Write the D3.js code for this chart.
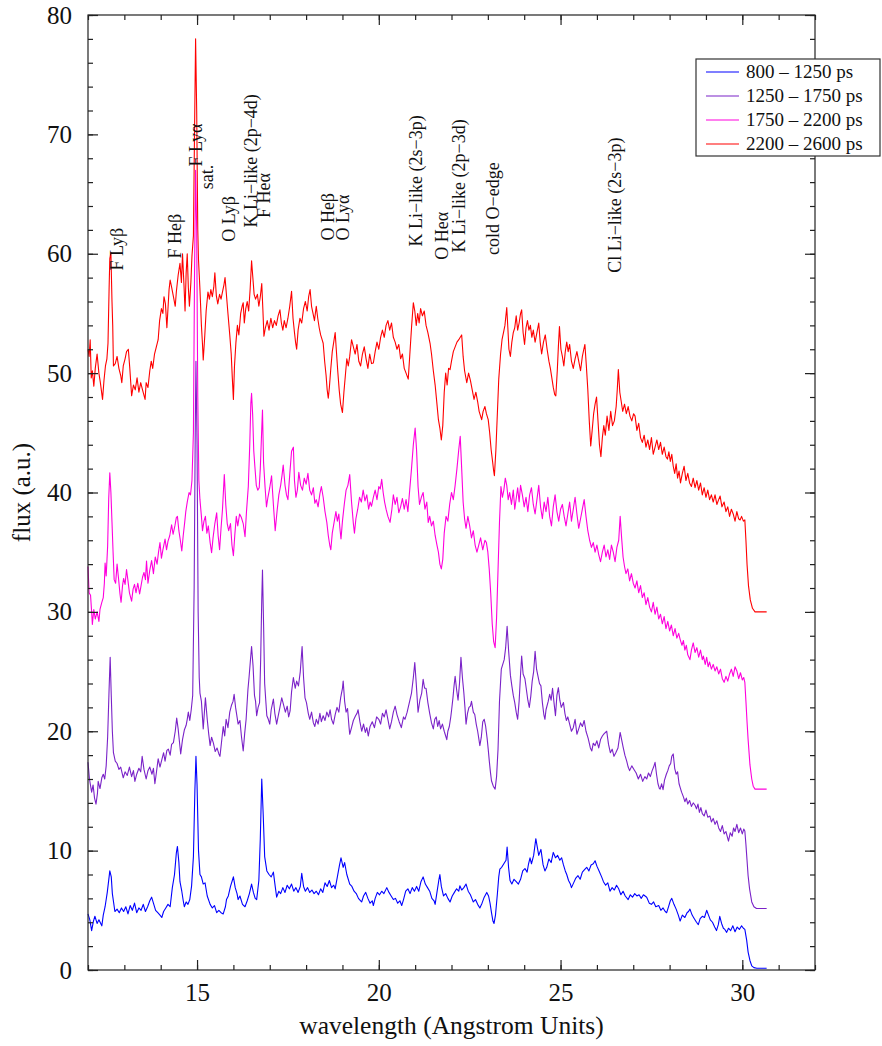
<!DOCTYPE html>
<html lang="en">
<head>
<meta charset="UTF-8"/>
<title>Time-resolved spectra</title>
<script src="https://d3js.org/d3.v7.min.js"></script>
<style>
  body { margin: 0; background: #fff; }
  svg text { font-family: "Liberation Serif", "DejaVu Serif", serif; fill: #111; }
</style>
</head>
<body>
<div id="chart"></div>
<script>
// ---- data: [wavelength (A), flux (a.u.)] ----
const s800 = [[12.0,4.7],[12.05,4.2],[12.1,3.3],[12.15,4.1],[12.19,4.5],[12.25,3.9],[12.3,4.2],[12.38,3.7],[12.42,4.6],[12.47,5.3],[12.53,6.5],[12.6,8.3],[12.64,7.8],[12.67,6.4],[12.74,4.9],[12.8,5.1],[12.86,4.8],[12.92,5.2],[12.98,4.9],[13.04,5.3],[13.1,4.7],[13.16,5.4],[13.22,5.0],[13.28,5.6],[13.34,4.8],[13.4,5.2],[13.46,5.0],[13.52,5.5],[13.58,4.9],[13.64,5.3],[13.7,5.8],[13.75,6.1],[13.8,5.6],[13.86,5.0],[13.92,4.8],[13.98,4.6],[14.03,4.4],[14.08,4.9],[14.14,5.2],[14.2,5.5],[14.26,5.3],[14.32,6.9],[14.38,8.0],[14.43,9.8],[14.46,10.35],[14.5,9.0],[14.53,7.4],[14.58,6.6],[14.62,5.8],[14.65,5.3],[14.7,5.7],[14.75,5.5],[14.8,5.9],[14.85,7.05],[14.9,9.5],[14.94,15.0],[14.97,17.9],[15.0,15.5],[15.04,10.0],[15.08,8.0],[15.12,7.8],[15.17,7.2],[15.22,7.3],[15.28,6.2],[15.36,5.5],[15.42,5.2],[15.48,5.4],[15.54,4.8],[15.6,5.0],[15.66,4.8],[15.72,4.7],[15.78,5.3],[15.81,5.9],[15.86,6.2],[15.92,7.0],[15.97,7.5],[16.0,7.8],[16.05,6.9],[16.1,6.4],[16.13,5.9],[16.18,6.2],[16.25,5.5],[16.32,5.3],[16.38,5.8],[16.44,6.4],[16.5,7.2],[16.55,6.5],[16.6,6.0],[16.64,5.9],[16.7,7.5],[16.74,11.0],[16.78,16.0],[16.82,13.0],[16.86,9.5],[16.92,8.3],[16.98,8.0],[17.04,7.8],[17.1,8.2],[17.15,7.0],[17.19,6.1],[17.25,6.6],[17.3,6.4],[17.36,6.9],[17.42,6.5],[17.48,7.1],[17.54,6.8],[17.6,7.2],[17.66,6.6],[17.72,6.9],[17.78,6.5],[17.84,7.0],[17.88,8.1],[17.93,7.0],[17.98,6.6],[18.04,6.9],[18.1,6.5],[18.16,6.7],[18.22,6.4],[18.28,6.6],[18.34,6.3],[18.4,6.8],[18.46,6.5],[18.52,7.3],[18.58,7.0],[18.64,7.5],[18.7,6.9],[18.76,7.1],[18.8,6.8],[18.86,7.8],[18.92,8.8],[18.96,9.4],[19.02,8.6],[19.06,9.0],[19.12,8.0],[19.2,7.2],[19.26,7.0],[19.32,6.6],[19.38,6.4],[19.44,6.0],[19.5,5.8],[19.53,5.7],[19.58,6.2],[19.64,6.5],[19.7,6.0],[19.76,5.6],[19.82,5.8],[19.85,5.4],[19.9,6.0],[19.96,6.5],[20.02,6.3],[20.08,6.6],[20.14,6.4],[20.22,6.9],[20.28,6.5],[20.34,6.2],[20.4,5.9],[20.46,6.0],[20.52,5.6],[20.58,5.8],[20.63,5.4],[20.68,5.9],[20.74,6.6],[20.8,6.8],[20.86,6.4],[20.92,6.9],[20.98,6.6],[21.04,7.0],[21.1,6.6],[21.16,7.4],[21.22,7.8],[21.28,7.2],[21.34,6.9],[21.4,6.6],[21.46,6.0],[21.52,5.8],[21.55,5.5],[21.6,6.5],[21.65,7.5],[21.68,8.0],[21.72,7.0],[21.78,6.2],[21.84,6.4],[21.9,6.0],[21.96,5.7],[22.02,6.2],[22.08,6.5],[22.14,6.8],[22.2,6.6],[22.23,7.05],[22.28,6.7],[22.34,6.9],[22.4,7.2],[22.46,6.6],[22.52,6.3],[22.56,6.0],[22.6,5.7],[22.66,5.9],[22.72,5.5],[22.78,5.2],[22.84,5.6],[22.9,6.1],[22.97,6.5],[23.02,6.2],[23.06,5.6],[23.1,4.8],[23.14,4.1],[23.17,3.9],[23.21,4.6],[23.26,6.3],[23.3,7.8],[23.33,8.45],[23.38,8.6],[23.44,8.9],[23.5,9.2],[23.53,10.3],[23.57,8.6],[23.61,7.5],[23.66,7.2],[23.72,7.6],[23.78,7.4],[23.84,7.2],[23.9,7.6],[23.96,8.3],[24.02,8.5],[24.08,8.2],[24.12,8.9],[24.16,9.4],[24.2,8.9],[24.26,9.6],[24.32,11.0],[24.36,10.3],[24.4,9.6],[24.46,10.1],[24.52,8.8],[24.57,8.3],[24.62,8.6],[24.68,9.3],[24.74,9.0],[24.8,9.85],[24.86,9.4],[24.92,9.6],[24.98,9.2],[25.03,9.4],[25.08,8.8],[25.13,8.3],[25.17,8.0],[25.22,7.5],[25.27,7.2],[25.3,6.9],[25.36,7.3],[25.42,7.7],[25.48,7.9],[25.54,7.6],[25.6,8.2],[25.66,8.4],[25.72,8.6],[25.78,8.3],[25.84,8.8],[25.9,8.9],[25.95,9.15],[26.0,8.7],[26.06,8.3],[26.13,7.8],[26.18,7.4],[26.24,7.1],[26.3,7.3],[26.36,6.6],[26.42,6.9],[26.48,6.7],[26.54,7.1],[26.6,6.8],[26.66,6.3],[26.72,6.6],[26.78,6.2],[26.86,5.9],[26.92,6.3],[26.98,6.1],[27.04,6.4],[27.1,6.2],[27.16,6.3],[27.22,6.0],[27.28,6.3],[27.37,6.1],[27.44,5.6],[27.5,5.5],[27.56,5.7],[27.62,5.3],[27.7,5.4],[27.76,5.0],[27.82,5.2],[27.88,4.9],[27.92,4.8],[27.98,5.4],[28.02,5.8],[28.06,6.0],[28.12,5.5],[28.18,5.1],[28.24,4.6],[28.29,4.1],[28.35,4.6],[28.42,4.4],[28.48,4.8],[28.52,4.9],[28.56,5.1],[28.62,4.6],[28.68,4.3],[28.74,4.0],[28.79,3.8],[28.84,4.3],[28.9,4.5],[28.96,4.4],[29.02,5.0],[29.07,4.6],[29.12,4.2],[29.18,4.0],[29.24,3.6],[29.29,3.3],[29.34,3.8],[29.38,4.5],[29.43,3.9],[29.48,3.5],[29.52,3.4],[29.57,3.15],[29.62,3.5],[29.68,3.3],[29.74,3.7],[29.8,3.2],[29.86,3.6],[29.92,3.4],[29.98,3.7],[30.03,3.5],[30.07,3.4],[30.12,2.5],[30.16,1.5],[30.21,0.8],[30.26,0.35],[30.32,0.2],[30.4,0.15],[30.5,0.15],[30.6,0.15],[30.67,0.15]];

const s1250 = [[12.0,17.4],[12.04,16.0],[12.1,14.9],[12.14,15.5],[12.18,14.4],[12.22,13.9],[12.26,14.8],[12.28,15.8],[12.33,15.2],[12.38,16.1],[12.42,16.4],[12.46,16.0],[12.5,17.1],[12.54,19.5],[12.58,23.5],[12.61,26.2],[12.64,23.0],[12.67,20.0],[12.7,18.2],[12.75,17.5],[12.8,17.3],[12.85,16.8],[12.9,17.0],[12.97,16.1],[13.02,16.6],[13.08,16.3],[13.14,17.0],[13.2,16.2],[13.25,16.7],[13.29,15.8],[13.34,16.4],[13.4,16.9],[13.45,16.6],[13.49,17.9],[13.54,16.8],[13.6,16.0],[13.65,16.7],[13.7,17.0],[13.76,16.4],[13.8,16.9],[13.84,15.6],[13.88,16.5],[13.93,17.7],[13.98,17.0],[14.03,17.6],[14.08,18.2],[14.12,17.5],[14.17,18.4],[14.21,18.5],[14.26,18.0],[14.3,18.9],[14.35,19.05],[14.4,20.0],[14.44,21.1],[14.48,20.2],[14.52,19.0],[14.55,18.1],[14.6,19.3],[14.65,20.1],[14.7,20.5],[14.73,21.0],[14.76,21.6],[14.8,20.9],[14.84,21.8],[14.88,23.0],[14.92,32.0],[14.95,45.0],[14.97,51.0],[15.0,44.0],[15.03,30.0],[15.06,24.5],[15.08,23.2],[15.12,22.5],[15.17,20.2],[15.2,21.5],[15.23,22.8],[15.28,21.0],[15.32,19.8],[15.36,18.8],[15.4,19.5],[15.45,19.0],[15.5,18.3],[15.55,18.6],[15.6,18.1],[15.63,17.9],[15.67,19.0],[15.72,20.4],[15.76,19.6],[15.8,21.0],[15.85,20.3],[15.9,21.6],[15.95,22.2],[15.99,22.5],[16.02,23.1],[16.06,22.0],[16.1,21.2],[16.13,20.6],[16.18,20.9],[16.22,19.6],[16.27,18.35],[16.31,19.8],[16.35,21.0],[16.4,23.5],[16.43,24.5],[16.47,26.0],[16.5,27.1],[16.54,25.5],[16.58,23.0],[16.61,22.5],[16.64,21.3],[16.68,22.0],[16.72,22.4],[16.75,26.0],[16.78,31.0],[16.8,33.5],[16.83,29.0],[16.86,24.0],[16.89,22.6],[16.92,21.3],[16.96,21.0],[17.0,20.6],[17.04,21.8],[17.1,22.7],[17.14,21.5],[17.19,20.6],[17.24,21.4],[17.28,22.0],[17.33,22.8],[17.38,22.2],[17.43,21.6],[17.48,22.1],[17.52,21.2],[17.56,21.7],[17.6,23.3],[17.65,24.5],[17.7,23.6],[17.74,24.2],[17.79,23.8],[17.84,25.0],[17.89,27.1],[17.93,24.5],[17.97,22.8],[18.01,22.4],[18.06,21.5],[18.1,21.0],[18.15,21.6],[18.2,20.7],[18.24,20.4],[18.28,21.0],[18.33,20.6],[18.38,21.5],[18.42,20.8],[18.47,21.3],[18.52,20.9],[18.57,21.6],[18.62,21.2],[18.66,21.8],[18.7,21.0],[18.75,20.6],[18.8,21.4],[18.85,22.0],[18.9,21.6],[18.95,22.8],[19.0,23.6],[19.02,24.2],[19.06,22.5],[19.1,21.6],[19.14,21.9],[19.18,20.4],[19.2,19.75],[19.25,20.3],[19.3,20.9],[19.36,21.3],[19.4,21.5],[19.43,21.8],[19.48,20.8],[19.53,20.0],[19.58,20.6],[19.63,19.9],[19.67,20.3],[19.71,19.6],[19.76,20.4],[19.82,20.8],[19.88,20.3],[19.94,21.2],[20.0,21.0],[20.05,20.6],[20.1,21.5],[20.15,21.2],[20.2,21.8],[20.25,21.0],[20.3,20.2],[20.35,20.8],[20.4,21.6],[20.45,22.1],[20.5,21.4],[20.56,20.8],[20.62,20.3],[20.68,21.2],[20.72,21.0],[20.78,21.6],[20.84,22.4],[20.9,23.2],[20.95,24.5],[20.99,25.75],[21.03,24.0],[21.08,21.6],[21.13,22.6],[21.18,23.2],[21.22,24.35],[21.26,23.6],[21.3,23.6],[21.35,22.4],[21.4,21.5],[21.45,20.7],[21.5,20.2],[21.54,21.0],[21.58,21.2],[21.62,20.4],[21.66,20.9],[21.7,20.2],[21.75,20.6],[21.8,20.0],[21.84,19.6],[21.87,19.3],[21.9,20.0],[21.94,20.4],[21.98,21.2],[22.0,21.7],[22.04,22.8],[22.07,23.8],[22.1,24.6],[22.14,23.5],[22.18,22.6],[22.22,24.0],[22.26,26.2],[22.3,24.5],[22.34,23.2],[22.37,22.0],[22.4,20.6],[22.44,21.5],[22.48,22.0],[22.52,22.1],[22.55,22.5],[22.6,21.6],[22.64,21.4],[22.68,20.6],[22.72,20.0],[22.75,19.4],[22.78,18.8],[22.82,19.5],[22.86,20.8],[22.9,21.0],[22.94,20.4],[22.98,19.4],[23.01,18.5],[23.04,17.5],[23.07,16.6],[23.1,15.85],[23.15,15.4],[23.2,15.15],[23.24,16.2],[23.28,18.5],[23.32,22.5],[23.37,25.2],[23.41,25.6],[23.45,26.0],[23.49,27.0],[23.53,28.8],[23.57,26.8],[23.62,24.7],[23.66,23.8],[23.7,23.0],[23.74,22.4],[23.78,21.6],[23.82,21.0],[23.86,22.5],[23.9,24.8],[23.93,26.3],[23.97,24.8],[24.02,24.4],[24.06,23.5],[24.1,22.6],[24.14,22.0],[24.18,22.9],[24.22,24.2],[24.26,25.0],[24.3,26.7],[24.34,25.2],[24.38,24.6],[24.42,24.0],[24.46,23.8],[24.5,22.4],[24.54,21.4],[24.57,21.0],[24.6,21.8],[24.66,22.5],[24.7,23.1],[24.74,22.6],[24.78,23.6],[24.82,22.4],[24.86,21.3],[24.9,23.0],[24.94,23.65],[24.98,22.6],[25.02,22.0],[25.08,22.4],[25.12,21.5],[25.16,20.9],[25.2,21.2],[25.25,20.6],[25.3,20.0],[25.35,20.3],[25.4,21.0],[25.45,19.75],[25.5,20.2],[25.55,20.7],[25.6,20.4],[25.65,20.9],[25.7,20.0],[25.76,19.4],[25.82,18.6],[25.86,18.35],[25.9,19.0],[25.95,18.8],[26.0,19.2],[26.05,18.6],[26.1,19.3],[26.15,19.6],[26.2,19.8],[26.27,20.0],[26.32,18.9],[26.37,18.2],[26.42,18.5],[26.47,17.9],[26.52,18.2],[26.58,18.6],[26.64,19.9],[26.68,19.3],[26.72,18.7],[26.77,18.0],[26.82,17.5],[26.86,17.0],[26.9,16.7],[26.96,17.1],[27.02,16.8],[27.08,16.5],[27.14,16.0],[27.2,16.4],[27.26,15.8],[27.32,16.2],[27.37,16.0],[27.42,16.5],[27.47,16.2],[27.52,16.7],[27.56,17.0],[27.6,17.4],[27.64,16.4],[27.68,15.6],[27.72,15.2],[27.74,15.15],[27.78,15.6],[27.82,15.1],[27.86,15.9],[27.91,16.4],[27.95,16.7],[27.99,17.1],[28.03,17.3],[28.06,17.9],[28.1,18.1],[28.14,16.9],[28.18,16.4],[28.22,16.6],[28.26,15.6],[28.3,15.2],[28.33,14.9],[28.38,14.5],[28.42,14.1],[28.46,14.4],[28.5,13.9],[28.55,14.2],[28.6,13.7],[28.65,14.0],[28.7,13.8],[28.74,13.5],[28.78,13.9],[28.82,13.2],[28.86,13.6],[28.9,13.1],[28.95,12.9],[29.0,13.4],[29.05,12.8],[29.11,12.9],[29.15,12.4],[29.2,12.7],[29.25,12.2],[29.3,12.5],[29.35,11.9],[29.4,11.6],[29.45,12.1],[29.5,11.4],[29.55,11.6],[29.62,10.8],[29.67,11.5],[29.72,11.2],[29.76,11.9],[29.8,11.6],[29.85,12.2],[29.9,11.5],[29.95,11.9],[30.0,11.4],[30.04,11.8],[30.07,11.65],[30.1,10.5],[30.13,9.2],[30.16,7.9],[30.2,6.8],[30.26,5.7],[30.32,5.3],[30.39,5.15],[30.5,5.15],[30.6,5.15],[30.67,5.15]];

const s1750 = [[12.0,33.8],[12.03,31.6],[12.07,31.4],[12.1,30.0],[12.12,28.95],[12.16,30.2],[12.2,29.4],[12.25,30.0],[12.3,29.2],[12.33,30.2],[12.38,30.8],[12.42,31.2],[12.45,32.4],[12.47,34.1],[12.5,33.0],[12.54,35.5],[12.57,39.5],[12.6,41.65],[12.63,40.0],[12.66,37.5],[12.69,35.0],[12.72,32.7],[12.76,32.4],[12.8,34.0],[12.84,32.8],[12.88,31.5],[12.91,30.8],[12.95,32.2],[12.98,32.8],[13.02,32.3],[13.06,33.55],[13.1,32.6],[13.14,31.6],[13.2,30.9],[13.24,31.9],[13.28,32.3],[13.32,31.6],[13.37,32.4],[13.42,31.5],[13.46,32.2],[13.5,32.9],[13.54,33.3],[13.58,32.7],[13.61,34.25],[13.65,32.4],[13.7,33.5],[13.75,34.3],[13.8,33.2],[13.85,34.6],[13.9,34.0],[13.94,35.0],[13.98,35.8],[14.02,34.5],[14.06,35.2],[14.12,36.1],[14.16,35.2],[14.2,35.9],[14.25,36.4],[14.3,37.3],[14.34,36.5],[14.39,37.2],[14.43,37.9],[14.46,38.0],[14.5,36.8],[14.54,36.0],[14.58,35.1],[14.62,36.4],[14.66,37.5],[14.69,38.4],[14.73,39.2],[14.78,40.0],[14.82,39.8],[14.86,41.0],[14.9,45.0],[14.93,58.0],[14.96,67.0],[14.99,62.0],[15.02,48.0],[15.05,41.0],[15.08,39.4],[15.12,38.0],[15.15,36.8],[15.19,37.6],[15.23,38.0],[15.27,36.6],[15.31,37.2],[15.36,35.8],[15.4,34.95],[15.44,36.2],[15.49,37.4],[15.54,38.3],[15.58,36.4],[15.62,35.2],[15.66,37.0],[15.7,38.6],[15.75,41.5],[15.79,39.0],[15.83,37.4],[15.87,36.8],[15.92,37.4],[15.96,35.6],[16.0,34.7],[16.04,36.5],[16.08,38.0],[16.12,37.2],[16.17,38.2],[16.22,37.9],[16.27,37.4],[16.32,36.3],[16.36,38.4],[16.41,40.5],[16.45,44.0],[16.48,47.5],[16.5,48.3],[16.53,46.5],[16.56,43.5],[16.59,42.2],[16.63,40.6],[16.67,40.2],[16.71,40.4],[16.74,42.0],[16.77,44.5],[16.8,46.9],[16.83,42.5],[16.87,40.5],[16.91,38.8],[16.95,39.6],[17.0,40.4],[17.05,41.4],[17.1,39.0],[17.15,36.8],[17.2,38.4],[17.25,39.8],[17.3,40.6],[17.34,41.5],[17.37,42.3],[17.42,40.6],[17.46,39.8],[17.5,39.4],[17.55,41.5],[17.6,43.45],[17.65,43.8],[17.68,41.0],[17.72,39.6],[17.76,40.2],[17.8,41.7],[17.85,40.6],[17.9,40.2],[17.95,41.2],[18.0,40.7],[18.05,41.6],[18.1,40.2],[18.15,39.8],[18.2,40.4],[18.24,39.1],[18.28,39.4],[18.33,38.8],[18.38,39.9],[18.42,40.5],[18.47,39.6],[18.52,38.4],[18.57,37.5],[18.61,36.4],[18.65,35.6],[18.68,35.2],[18.72,36.6],[18.77,37.5],[18.82,38.4],[18.86,37.6],[18.9,38.2],[18.93,37.0],[18.96,36.1],[19.0,37.6],[19.05,39.0],[19.1,40.2],[19.15,40.6],[19.2,41.5],[19.25,39.2],[19.3,37.4],[19.33,36.6],[19.37,37.8],[19.42,38.6],[19.47,39.6],[19.52,39.2],[19.57,40.2],[19.62,39.3],[19.67,39.8],[19.72,38.6],[19.76,39.2],[19.8,38.85],[19.85,39.6],[19.9,40.2],[19.95,39.4],[20.0,40.5],[20.04,40.3],[20.08,41.1],[20.12,40.0],[20.16,39.2],[20.2,38.6],[20.25,38.0],[20.31,37.5],[20.36,38.6],[20.4,39.8],[20.45,39.0],[20.5,39.6],[20.55,38.3],[20.6,38.8],[20.65,39.5],[20.7,38.6],[20.75,39.4],[20.8,38.4],[20.85,40.2],[20.9,42.0],[20.95,44.0],[21.0,45.4],[21.04,43.5],[21.08,40.5],[21.12,39.0],[21.17,39.6],[21.22,40.0],[21.27,38.6],[21.32,39.2],[21.36,37.5],[21.4,38.0],[21.45,37.2],[21.5,37.6],[21.55,36.4],[21.6,35.6],[21.64,35.0],[21.68,34.0],[21.72,33.6],[21.76,34.4],[21.8,36.6],[21.85,38.0],[21.9,37.6],[21.95,39.0],[22.0,40.0],[22.05,39.4],[22.1,40.6],[22.15,42.0],[22.2,43.6],[22.24,44.7],[22.28,42.0],[22.32,39.2],[22.36,37.8],[22.4,37.0],[22.45,38.0],[22.5,37.2],[22.55,36.2],[22.6,36.8],[22.65,35.6],[22.7,35.0],[22.75,35.6],[22.8,36.2],[22.86,35.2],[22.92,36.0],[22.96,35.8],[23.0,35.0],[23.04,33.5],[23.08,31.5],[23.12,29.0],[23.16,27.5],[23.2,27.0],[23.24,29.5],[23.28,33.5],[23.32,37.5],[23.36,40.5],[23.4,39.6],[23.44,40.2],[23.48,41.2],[23.52,40.6],[23.56,39.4],[23.6,40.0],[23.65,39.0],[23.7,40.2],[23.74,38.6],[23.78,39.5],[23.82,40.4],[23.86,39.2],[23.9,40.6],[23.95,39.8],[24.0,38.8],[24.05,39.6],[24.1,38.4],[24.15,39.8],[24.2,40.4],[24.25,39.0],[24.3,38.2],[24.35,39.4],[24.4,40.6],[24.45,38.8],[24.5,37.8],[24.55,39.2],[24.6,38.4],[24.65,39.6],[24.7,38.0],[24.75,37.2],[24.8,38.8],[24.85,39.8],[24.9,38.4],[24.95,37.6],[25.0,38.6],[25.05,39.0],[25.1,38.0],[25.15,37.2],[25.2,38.2],[25.25,39.2],[25.3,37.6],[25.35,38.6],[25.4,39.6],[25.45,38.2],[25.5,37.0],[25.55,37.8],[25.6,38.6],[25.65,39.4],[25.7,38.0],[25.75,36.8],[25.8,36.0],[25.85,35.4],[25.9,35.8],[25.95,35.0],[26.0,35.6],[26.05,34.8],[26.1,34.2],[26.15,35.0],[26.2,35.6],[26.25,34.6],[26.3,35.2],[26.35,34.4],[26.4,35.6],[26.45,35.0],[26.5,34.2],[26.55,35.4],[26.6,36.0],[26.64,38.0],[26.68,36.2],[26.72,34.6],[26.76,33.8],[26.8,33.2],[26.85,33.6],[26.9,32.6],[26.95,33.2],[27.0,32.4],[27.05,32.0],[27.1,32.6],[27.15,31.6],[27.2,32.2],[27.25,31.2],[27.3,31.6],[27.35,30.6],[27.4,31.2],[27.45,30.4],[27.5,30.0],[27.55,30.8],[27.6,29.8],[27.65,30.4],[27.7,29.4],[27.75,29.8],[27.8,29.0],[27.85,29.6],[27.9,28.6],[27.95,29.2],[28.0,28.4],[28.05,28.9],[28.1,28.0],[28.15,28.6],[28.2,27.8],[28.25,28.2],[28.29,27.7],[28.34,27.2],[28.38,27.6],[28.42,26.8],[28.46,27.2],[28.5,26.4],[28.56,26.0],[28.6,26.8],[28.65,27.4],[28.7,26.6],[28.75,27.0],[28.8,26.2],[28.85,26.8],[28.9,26.0],[28.93,26.3],[28.98,25.6],[29.02,26.2],[29.06,25.4],[29.1,25.8],[29.15,25.2],[29.2,25.6],[29.25,25.05],[29.3,25.4],[29.35,24.8],[29.4,25.2],[29.45,24.4],[29.5,24.1],[29.55,24.6],[29.6,24.2],[29.65,24.8],[29.7,25.2],[29.75,24.6],[29.8,25.4],[29.85,25.05],[29.9,24.4],[29.95,24.9],[30.0,24.3],[30.04,24.5],[30.07,24.1],[30.1,22.5],[30.13,20.8],[30.16,19.3],[30.21,17.2],[30.26,16.0],[30.3,15.4],[30.35,15.15],[30.5,15.15],[30.67,15.15]];

const s2200 = [[12.0,52.0],[12.03,51.4],[12.06,52.8],[12.09,49.6],[12.12,50.2],[12.16,48.9],[12.2,50.4],[12.25,51.6],[12.3,50.0],[12.34,49.2],[12.4,47.8],[12.44,49.4],[12.48,50.6],[12.52,51.2],[12.55,52.5],[12.58,57.0],[12.6,59.6],[12.63,60.1],[12.66,56.0],[12.68,54.0],[12.7,50.6],[12.75,50.8],[12.8,51.4],[12.85,50.4],[12.9,49.8],[12.93,49.2],[12.97,50.6],[13.02,51.2],[13.06,51.8],[13.11,52.0],[13.15,50.4],[13.2,48.1],[13.25,49.0],[13.3,48.6],[13.35,49.6],[13.4,48.4],[13.45,49.2],[13.5,48.6],[13.57,47.8],[13.6,49.2],[13.65,48.8],[13.7,50.2],[13.74,51.0],[13.78,50.4],[13.83,51.6],[13.88,52.2],[13.93,52.8],[13.97,54.4],[14.02,55.4],[14.06,55.0],[14.09,56.4],[14.13,55.8],[14.17,53.8],[14.2,55.4],[14.23,57.0],[14.26,57.8],[14.3,57.2],[14.35,56.4],[14.4,55.6],[14.43,56.8],[14.48,58.2],[14.53,59.2],[14.57,57.6],[14.6,60.0],[14.64,57.4],[14.67,55.2],[14.7,58.4],[14.73,60.0],[14.76,57.2],[14.79,55.6],[14.83,57.6],[14.86,59.8],[14.9,61.5],[14.93,70.0],[14.96,78.0],[14.99,72.0],[15.02,62.0],[15.04,59.5],[15.08,57.0],[15.12,54.0],[15.15,52.4],[15.17,51.1],[15.21,53.0],[15.25,55.2],[15.3,56.8],[15.34,56.2],[15.38,57.0],[15.42,56.4],[15.46,57.2],[15.49,58.4],[15.53,56.5],[15.57,55.8],[15.62,56.6],[15.66,56.2],[15.7,56.8],[15.74,57.4],[15.77,58.0],[15.81,56.5],[15.85,55.0],[15.9,53.2],[15.94,51.6],[15.97,49.6],[16.0,47.8],[16.03,50.6],[16.07,52.6],[16.11,54.0],[16.15,53.2],[16.2,55.0],[16.24,55.6],[16.27,55.9],[16.3,54.2],[16.34,55.4],[16.38,56.0],[16.42,55.2],[16.46,57.0],[16.5,59.4],[16.53,58.2],[16.57,56.6],[16.61,56.2],[16.66,56.6],[16.7,55.6],[16.74,56.4],[16.78,57.5],[16.81,55.4],[16.84,53.1],[16.88,53.8],[16.93,54.4],[16.98,53.6],[17.03,54.6],[17.08,53.8],[17.13,54.4],[17.18,54.0],[17.23,54.8],[17.28,55.3],[17.32,54.2],[17.36,53.6],[17.4,54.4],[17.45,53.8],[17.5,54.6],[17.55,55.6],[17.6,56.85],[17.64,54.6],[17.68,53.4],[17.71,52.6],[17.74,52.0],[17.78,53.6],[17.83,54.6],[17.88,54.2],[17.93,55.4],[17.98,56.0],[18.03,55.2],[18.07,56.4],[18.11,57.0],[18.15,55.6],[18.19,55.0],[18.23,54.4],[18.28,55.6],[18.32,54.6],[18.36,53.8],[18.4,53.2],[18.44,52.8],[18.47,52.5],[18.51,51.0],[18.55,49.8],[18.58,48.6],[18.61,47.9],[18.64,48.8],[18.68,50.4],[18.72,51.8],[18.76,52.6],[18.8,53.4],[18.83,52.0],[18.87,50.2],[18.91,48.6],[18.95,47.4],[19.0,46.7],[19.04,48.4],[19.08,49.8],[19.12,51.2],[19.16,50.6],[19.2,51.4],[19.25,52.8],[19.3,52.2],[19.35,51.6],[19.4,52.4],[19.45,51.0],[19.5,50.6],[19.55,51.6],[19.6,52.2],[19.65,51.2],[19.7,50.4],[19.75,51.6],[19.8,50.8],[19.85,50.85],[19.9,51.8],[19.95,52.6],[20.0,52.0],[20.05,53.0],[20.1,53.6],[20.15,53.0],[20.2,54.0],[20.25,54.4],[20.3,53.6],[20.35,54.2],[20.4,53.0],[20.45,52.6],[20.5,52.0],[20.55,52.4],[20.6,51.2],[20.65,51.6],[20.7,50.4],[20.75,50.0],[20.81,49.5],[20.85,51.4],[20.9,53.8],[20.95,55.9],[20.99,55.2],[21.03,54.0],[21.07,55.0],[21.11,54.2],[21.15,55.4],[21.2,54.8],[21.25,55.2],[21.3,54.0],[21.35,53.4],[21.41,52.5],[21.45,51.6],[21.5,50.2],[21.55,49.0],[21.6,47.4],[21.64,46.1],[21.68,45.4],[21.72,44.4],[21.76,45.6],[21.8,48.4],[21.84,50.0],[21.88,49.0],[21.92,50.4],[21.96,50.3],[22.0,51.0],[22.05,51.8],[22.1,52.2],[22.15,52.6],[22.2,52.8],[22.24,53.0],[22.28,53.2],[22.32,51.4],[22.36,50.2],[22.42,49.2],[22.47,50.0],[22.52,49.4],[22.57,48.6],[22.62,47.8],[22.67,48.4],[22.72,47.6],[22.76,46.8],[22.8,46.4],[22.83,46.1],[22.87,46.8],[22.92,47.2],[22.96,46.6],[23.01,46.1],[23.05,45.0],[23.09,43.6],[23.13,42.6],[23.16,41.8],[23.18,41.4],[23.22,43.5],[23.26,46.5],[23.3,49.5],[23.35,51.6],[23.39,52.8],[23.43,53.4],[23.47,54.0],[23.52,55.5],[23.55,53.8],[23.58,52.0],[23.62,51.4],[23.66,52.6],[23.7,53.4],[23.74,53.8],[23.78,54.8],[23.82,53.6],[23.86,54.2],[23.9,55.0],[23.93,55.3],[23.97,53.4],[24.01,52.4],[24.05,53.8],[24.09,54.4],[24.13,53.6],[24.17,54.0],[24.21,53.0],[24.25,53.6],[24.3,52.6],[24.35,53.4],[24.4,54.2],[24.44,52.6],[24.48,51.6],[24.53,52.6],[24.58,53.2],[24.63,52.0],[24.68,51.0],[24.72,50.4],[24.76,49.6],[24.8,48.8],[24.84,48.2],[24.87,48.1],[24.91,50.2],[24.94,52.2],[24.97,53.9],[25.01,52.0],[25.05,51.4],[25.09,50.6],[25.13,51.8],[25.17,52.6],[25.21,51.8],[25.25,52.4],[25.3,51.0],[25.35,50.4],[25.4,51.2],[25.45,51.8],[25.5,51.0],[25.55,50.2],[25.6,51.4],[25.64,52.0],[25.67,52.4],[25.71,50.6],[25.75,48.6],[25.79,46.0],[25.83,43.9],[25.87,45.2],[25.91,46.6],[25.95,47.4],[25.99,48.0],[26.03,46.0],[26.07,44.0],[26.11,43.0],[26.15,44.6],[26.19,45.6],[26.23,44.8],[26.28,46.4],[26.33,45.2],[26.38,46.8],[26.43,45.6],[26.48,46.0],[26.53,47.2],[26.56,48.6],[26.59,50.3],[26.63,48.4],[26.67,47.6],[26.71,46.8],[26.76,47.4],[26.81,46.6],[26.86,47.2],[26.91,46.4],[26.96,46.0],[27.01,46.6],[27.05,46.4],[27.1,45.2],[27.15,45.8],[27.2,44.6],[27.25,44.2],[27.3,44.8],[27.35,43.8],[27.4,44.4],[27.45,43.6],[27.5,44.6],[27.55,43.2],[27.6,43.8],[27.65,44.4],[27.7,43.6],[27.75,44.2],[27.8,43.2],[27.85,43.8],[27.9,43.0],[27.94,42.8],[27.98,43.4],[28.02,42.6],[28.06,43.2],[28.1,42.2],[28.14,41.6],[28.18,42.4],[28.22,41.2],[28.26,41.8],[28.3,40.8],[28.35,41.6],[28.4,42.2],[28.45,41.0],[28.5,41.6],[28.55,40.8],[28.6,40.5],[28.65,41.2],[28.7,40.4],[28.75,41.0],[28.8,40.2],[28.85,40.8],[28.9,39.8],[28.95,40.4],[29.0,39.6],[29.05,40.2],[29.1,39.4],[29.15,39.8],[29.2,39.2],[29.25,39.8],[29.3,39.0],[29.35,39.4],[29.39,39.7],[29.44,38.8],[29.5,39.2],[29.55,38.4],[29.6,38.8],[29.65,38.0],[29.7,38.6],[29.75,38.2],[29.8,37.6],[29.85,38.4],[29.9,37.8],[29.94,37.7],[29.98,38.0],[30.03,37.6],[30.07,37.7],[30.1,36.0],[30.13,34.0],[30.17,32.2],[30.22,31.0],[30.28,30.3],[30.35,30.0],[30.5,30.0],[30.67,30.0]];

const seriesData = [s800, s1250, s1750, s2200];
const seriesNames = ["800 \u2013 1250 ps", "1250 \u2013 1750 ps", "1750 \u2013 2200 ps", "2200 \u2013 2600 ps"];
const seriesColors = ["#0000ff", "#7a22c8", "#ff00dd", "#ff0000"];

// line identifications: label, wavelength of label, bottom of text (flux units)
const lineLabels = ["F Ly\u03b2", "F He\u03b2", "F Ly\u03b1", "sat.", "O Ly\u03b2", "K Li\u2212like (2p\u22124d)", "F He\u03b1",
                    "O He\u03b2", "O Ly\u03b1", "K Li\u2212like (2s\u22123p)", "O He\u03b1", "K Li\u2212like (2p\u22123d)", "cold O\u2212edge", "Cl Li\u2212like (2s\u22123p)"];
const lineLabelX = [12.97, 14.56, 15.13, 15.44, 16.04, 16.65, 17.0, 18.77, 19.17, 21.2, 21.9, 22.38, 23.3, 26.66];
const lineLabelY = [58.6, 59.6, 67.3, 65.4, 61.0, 62.2, 63.0, 61.1, 61.1, 60.6, 59.5, 60.1, 59.9, 58.4];

const xTicks = [15, 20, 25, 30];
const yTicks = [0, 10, 20, 30, 40, 50, 60, 70, 80];

// ---- layout ----
const W = 882, H = 1046;
const plotL = 88, plotR = 815, plotT = 15, plotB = 970;

const svg = d3.select("#chart").append("svg")
    .attr("width", W)
    .attr("height", H);

const x = d3.scaleLinear().domain([12, 32]).range([plotL, plotR]);
const y = d3.scaleLinear().domain([0, 80]).range([plotB, plotT]);

// spectra, red drawn first so the lower curves sit on top
const line = d3.line().x(d => x(d[0])).y(d => y(d[1]));
[3, 2, 1, 0].forEach(i => {
    svg.append("path")
        .datum(seriesData[i])
        .attr("fill", "none")
        .attr("stroke", seriesColors[i])
        .attr("stroke-width", 1.1)
        .attr("stroke-linejoin", "round")
        .attr("d", line);
});

// frame
svg.append("rect")
    .attr("x", plotL).attr("y", plotT)
    .attr("width", plotR - plotL).attr("height", plotB - plotT)
    .attr("fill", "none").attr("stroke", "#222").attr("stroke-width", 1.2);

// axes: inward ticks on all four sides
function styleAxis(g) {
    g.select(".domain").remove();
    g.selectAll(".tick line").attr("stroke", "#222").attr("stroke-width", 1.2);
    g.selectAll(".tick text").attr("font-size", "25px").attr("font-family", "Liberation Serif, serif").attr("fill", "#111");
}
const xMinor = d3.range(12, 33, 1);
const yMinor = d3.range(0, 81, 2);

svg.append("g").attr("transform", `translate(0,${plotB})`)
    .call(d3.axisBottom(x).tickValues(xMinor).tickSize(-5).tickFormat(""))
    .call(styleAxis);
svg.append("g").attr("transform", `translate(0,${plotB})`)
    .call(d3.axisBottom(x).tickValues(xTicks).tickSize(-10).tickPadding(13).tickFormat(d3.format("d")))
    .call(styleAxis);
svg.append("g").attr("transform", `translate(0,${plotT})`)
    .call(d3.axisTop(x).tickValues(xMinor).tickSize(-5).tickFormat(""))
    .call(styleAxis);
svg.append("g").attr("transform", `translate(0,${plotT})`)
    .call(d3.axisTop(x).tickValues(xTicks).tickSize(-10).tickFormat(""))
    .call(styleAxis);

svg.append("g").attr("transform", `translate(${plotL},0)`)
    .call(d3.axisLeft(y).tickValues(yMinor).tickSize(-5).tickFormat(""))
    .call(styleAxis);
svg.append("g").attr("transform", `translate(${plotL},0)`)
    .call(d3.axisLeft(y).tickValues(yTicks).tickSize(-10).tickPadding(16).tickFormat(d3.format("d")))
    .call(styleAxis);
svg.append("g").attr("transform", `translate(${plotR},0)`)
    .call(d3.axisRight(y).tickValues(yMinor).tickSize(-5).tickFormat(""))
    .call(styleAxis);
svg.append("g").attr("transform", `translate(${plotR},0)`)
    .call(d3.axisRight(y).tickValues(yTicks).tickSize(-10).tickFormat(""))
    .call(styleAxis);

// axis titles
svg.append("text")
    .attr("x", (plotL + plotR) / 2)
    .attr("y", 1034)
    .attr("text-anchor", "middle")
    .attr("font-size", "25.5px")
    .text("wavelength (Angstrom Units)");

svg.append("text")
    .attr("transform", `translate(30,${(plotT + plotB) / 2}) rotate(-90)`)
    .attr("text-anchor", "middle")
    .attr("font-size", "25px")
    .text("flux (a.u.)");

// line identification labels, written bottom-to-top
svg.selectAll(".id-label")
    .data(lineLabels)
    .enter()
    .append("text")
    .attr("class", "id-label")
    .attr("transform", (d, i) => `translate(${x(lineLabelX[i])},${y(lineLabelY[i])}) rotate(-90)`)
    .attr("font-size", "18px")
    .text(d => d);

// legend
const legend = svg.append("g").attr("transform", "translate(696,59)");
legend.append("rect")
    .attr("width", 184).attr("height", 97)
    .attr("fill", "#fff").attr("stroke", "#333").attr("stroke-width", 1.2);
seriesNames.forEach((name, i) => {
    const ly = 13 + i * 24;
    legend.append("line")
        .attr("x1", 10).attr("x2", 43)
        .attr("y1", ly).attr("y2", ly)
        .attr("stroke", seriesColors[i]).attr("stroke-width", 1.2);
    legend.append("text")
        .attr("x", 50).attr("y", ly + 6)
        .attr("font-size", "19px")
        .text(name);
});
</script>
</body>
</html>
